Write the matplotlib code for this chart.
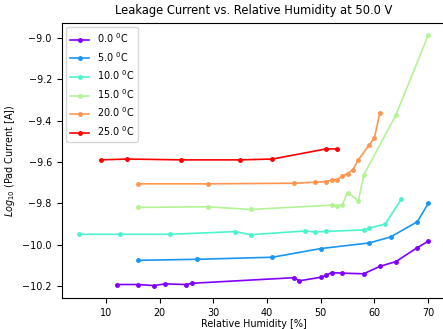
import numpy as np
import matplotlib
matplotlib.use('Agg')
from matplotlib import pyplot as plt

temps = [0.0, 5.0, 10.0, 15.0, 20.0, 25.0]

rh_0 = [12, 16, 19, 21, 25, 26, 45, 46, 50, 51, 52, 54, 58, 61, 64, 68, 70]
cur_0 = [-10.193, -10.193, -10.198, -10.190, -10.193, -10.187, -10.160, -10.175, -10.158,
         -10.149, -10.135, -10.138, -10.141, -10.105, -10.082, -10.014, -9.984]

rh_5 = [16, 27, 41, 50, 59, 63, 68, 70]
cur_5 = [-10.076, -10.071, -10.061, -10.019, -9.992, -9.963, -9.889, -9.801]

rh_10 = [5, 12.6, 22, 34, 37, 47, 49, 51, 58, 59, 62, 65]
cur_10 = [-9.950, -9.950, -9.950, -9.937, -9.952, -9.934, -9.939, -9.936, -9.929,
          -9.921, -9.900, -9.780]

rh_15 = [16, 29, 37, 52, 53, 54, 55, 57, 58, 64, 70]
cur_15 = [-9.820, -9.817, -9.830, -9.809, -9.812, -9.809, -9.748, -9.788, -9.664,
          -9.372, -8.987]

rh_20 = [16, 29, 45, 49, 51, 52, 53, 54, 55, 56, 57, 59, 60, 61]
cur_20 = [-9.706, -9.706, -9.703, -9.698, -9.695, -9.688, -9.685, -9.669, -9.656,
          -9.637, -9.590, -9.518, -9.483, -9.361]

rh_25 = [9, 14, 24, 35, 41, 51, 53]
cur_25 = [-9.590, -9.586, -9.590, -9.590, -9.586, -9.537, -9.537]

all_rh = [rh_0, rh_5, rh_10, rh_15, rh_20, rh_25]
all_cur = [cur_0, cur_5, cur_10, cur_15, cur_20, cur_25]

plt.rc('font', size=6.9)
fig = plt.figure(figsize=(4.43, 3.29), dpi=100)
ax = fig.add_axes([0.139, 0.094, 0.867, 0.837])

# one line per temperature, rainbow colours
colors = plt.cm.rainbow(np.linspace(0, 1, len(temps)))
for t, x, y, c in zip(temps, all_rh, all_cur, colors):
    ax.plot(x, y, marker='o', markersize=2.5, lw=1.2, color=c, label=r'%.1f $^0$C' % t)

ax.set_title('Leakage Current vs. Relative Humidity at 50.0 V', fontsize=8.3)
ax.set_xlabel('Relative Humidity [%]', labelpad=1)
ax.set_ylabel(r'$Log_{10}$ (Pad Current [A])')
ax.legend(loc='upper left')

fig.savefig('out.png', dpi=100)
